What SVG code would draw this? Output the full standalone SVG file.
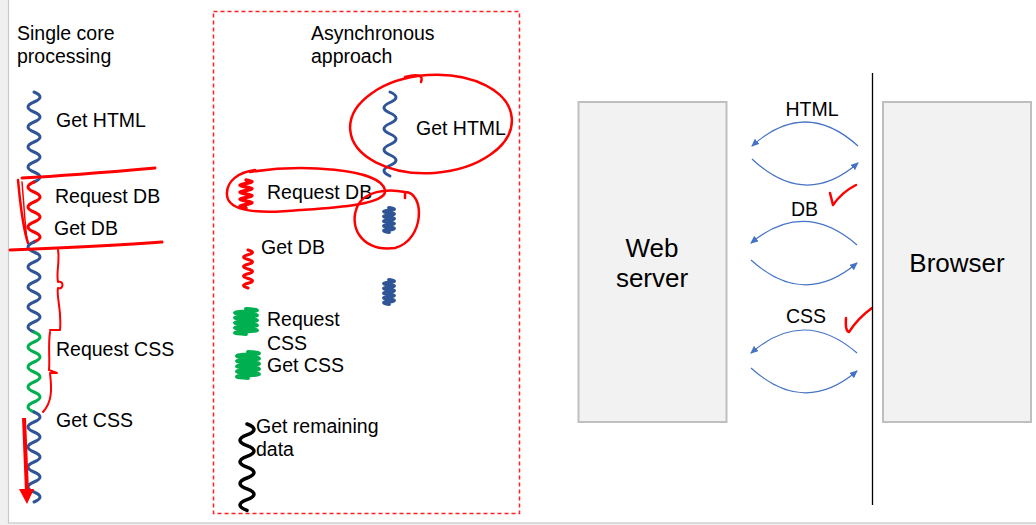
<svg xmlns="http://www.w3.org/2000/svg" width="1036" height="525" viewBox="0 0 1036 525">
<defs>
<style>
text{font-family:"Liberation Sans",Arial,sans-serif;font-size:19.5px;fill:#000}
.big{font-size:26px}
.w{fill:none;stroke-width:3;stroke-linecap:round}
.blue{stroke:#2f5597}
.dblue{stroke:#2f5597;stroke-width:4}
.red{stroke:#ff0000}
.green{stroke:#00b050;stroke-width:4}
.black{stroke:#000;stroke-width:3.5}
.ann{fill:none;stroke:#ff0000;stroke-width:2.5;stroke-linecap:round;stroke-linejoin:round}
.box{fill:#f2f2f2;stroke:#bfbfbf;stroke-width:2}
.arc{fill:none;stroke:#4472c4;stroke-width:1.2;marker-end:url(#ah)}
</style>
<marker id="ah" viewBox="0 0 8 7" refX="7" refY="3.5" markerWidth="8" markerHeight="7" markerUnits="userSpaceOnUse" orient="auto">
<path d="M0 0 L8 3.5 L0 7 z" fill="#4472c4"/>
</marker>
</defs>
<rect x="0" y="0" width="1036" height="525" fill="#f0f0f0"/>
<rect x="8.5" y="-1" width="1030" height="524" fill="#fff" stroke="#c8c8c8" stroke-width="1.2"/>

<!-- Single core column -->
<g id="single-core">
<text x="17" y="40">Single core</text>
<text x="17" y="63">processing</text>
<path class="w blue" d="M34 92 q12 5 0 10 t0 10 t0 10 t0 10 t0 10 t0 10 t0 10 t0 10 t0 10"/>
<path class="w red" d="M34 182 q-12 5 0 10 t0 10 t0 10 t0 10 t0 10 t0 10"/>
<path class="w blue" d="M34 242 q-12 5 0 10 t0 10 t0 10 t0 10 t0 10 t0 10 t0 10 t0 10 t0 10"/>
<path class="w green" style="stroke-width:3" d="M34 332 q12 5 0 10 t0 10 t0 10 t0 10 t0 10 t0 10 t0 10 t0 10"/>
<path class="w blue" d="M34 412 q12 5 0 10 t0 10 t0 10 t0 10 t0 10 t0 10 t0 10 t0 10 t0 10"/>
<text x="56" y="127">Get HTML</text>
<text x="55" y="203">Request DB</text>
<text x="54" y="235">Get DB</text>
<text x="56" y="356">Request CSS</text>
<text x="56" y="427">Get CSS</text>
</g>

<!-- Asynchronous box -->
<g id="async">
<rect x="213.5" y="11.5" width="306" height="502" fill="none" stroke="#ff2020" stroke-width="1.5" stroke-dasharray="4 3"/>
<text x="311" y="40">Asynchronous</text>
<text x="311" y="63">approach</text>
<path class="w blue" d="M390 92 q12 5.25 0 10.5 t0 10.5 t0 10.5 t0 10.5 t0 10.5 t0 10.5 t0 10.5 t0 10.5"/>
<path class="w dblue" d="M389 208 q10 1.2 0 2.4 t0 2.4 t0 2.4 t0 2.4 t0 2.4 t0 2.4 t0 2.4 t0 2.4 t0 2.4 t0 2.4"/>
<path class="w dblue" d="M389 280 q10 1.2 0 2.4 t0 2.4 t0 2.4 t0 2.4 t0 2.4 t0 2.4 t0 2.4 t0 2.4 t0 2.4 t0 2.4"/>
<path class="w red" style="stroke-width:3.5" d="M246 180 q12 1.75 0 3.5 t0 3.5 t0 3.5 t0 3.5 t0 3.5 t0 3.5 t0 3.5 t0 3.5"/>
<path class="w red" d="M248 250 q9 2.4 0 4.75 t0 4.75 t0 4.75 t0 4.75 t0 4.75 t0 4.75 t0 4.75 t0 4.75"/>
<path class="w green" d="M246 309 q22 1.25 0 2.5 t0 2.5 t0 2.5 t0 2.5 t0 2.5 t0 2.5 t0 2.5 t0 2.5 t0 2.5 t0 2.5"/>
<path class="w green" d="M248 352 q22 1.3 0 2.6 t0 2.6 t0 2.6 t0 2.6 t0 2.6 t0 2.6 t0 2.6 t0 2.6 t0 2.6 t0 2.6"/>
<path class="w black" d="M247 424 q14 5.4 0 10.8 t0 10.8 t0 10.8 t0 10.8 t0 10.8 t0 10.8 t0 10.8 t0 10.8"/>
<text x="416" y="135">Get HTML</text>
<text x="267" y="199">Request DB</text>
<text x="261" y="254">Get DB</text>
<text x="267" y="326">Request</text>
<text x="267" y="350">CSS</text>
<text x="267" y="372">Get CSS</text>
<text x="256" y="433">Get remaining</text>
<text x="256" y="456">data</text>
</g>

<!-- Red annotations -->
<g id="annotations">
<path class="ann" style="stroke-width:3" d="M22 178 C60 176 110 172 155 168"/>
<path class="ann" d="M18 180 C20 200 22 225 28 243"/>
<path class="ann" style="stroke-width:1.5" d="M22 182 C24 205 25 225 27 240"/>
<path class="ann" style="stroke-width:3" d="M10 250 C60 248 110 246 162 242"/>
<path class="ann" style="stroke-width:2" d="M58 250 C60 262 56 272 58 282 C64 280 64 290 58 288 C56 296 62 310 60 330 L50 330"/>
<path class="ann" style="stroke-width:2" d="M50 332 C48 345 50 358 49 370 L57 373 L50 373 C52 390 52 402 43 412"/>
<path d="M24 418 L27 492" stroke="#ff0000" stroke-width="4" fill="none"/>
<path d="M19 489 L34 489 L27 504 z" fill="#ff0000"/>
<ellipse class="ann" cx="431" cy="124" rx="81" ry="49" transform="rotate(-4 431 124)"/>
<path class="ann" d="M405 77 Q425 72 421 82"/>
<path class="ann" d="M250 172 C300 164 380 168 385 190 C388 205 330 208 300 210 C260 214 228 212 227 195 C226 180 240 172 255 170"/>
<path class="ann" d="M405 192 C425 192 425 240 395 248 C360 252 348 225 358 205 C365 192 385 188 405 192 L405 198"/>
<path class="ann" d="M830 193 L833 205 Q842 192 856 185"/>
<path class="ann" d="M846 318 Q845 331 849 332 Q858 318 872 308"/>
</g>

<!-- Web server / Browser -->
<g id="web-server">
<rect class="box" x="578.5" y="102" width="148" height="320"/>
<text class="big" x="652" y="257" text-anchor="middle">Web</text>
<text class="big" x="652" y="287" text-anchor="middle">server</text>
</g>
<g id="browser">
<rect class="box" x="883" y="102" width="148" height="320"/>
<text class="big" x="957" y="272" text-anchor="middle">Browser</text>
</g>
<line x1="872.5" y1="73" x2="872.5" y2="505" stroke="#000" stroke-width="1.3"/>

<g id="connectors">
<path class="arc" d="M858 146 Q805 98 752 146"/>
<path class="arc" d="M752 159 Q805 209 858 163"/>
<path class="arc" d="M857 245 Q804 199 751 243"/>
<path class="arc" d="M751 260 Q804 308 857 263"/>
<path class="arc" d="M857 353 Q804 307 751 353"/>
<path class="arc" d="M751 368 Q804 416 857 371"/>
</g>
<g id="labels">
<text x="812" y="116" text-anchor="middle">HTML</text>
<text x="804.5" y="216" text-anchor="middle">DB</text>
<text x="806" y="323" text-anchor="middle">CSS</text>
</g>
</svg>
